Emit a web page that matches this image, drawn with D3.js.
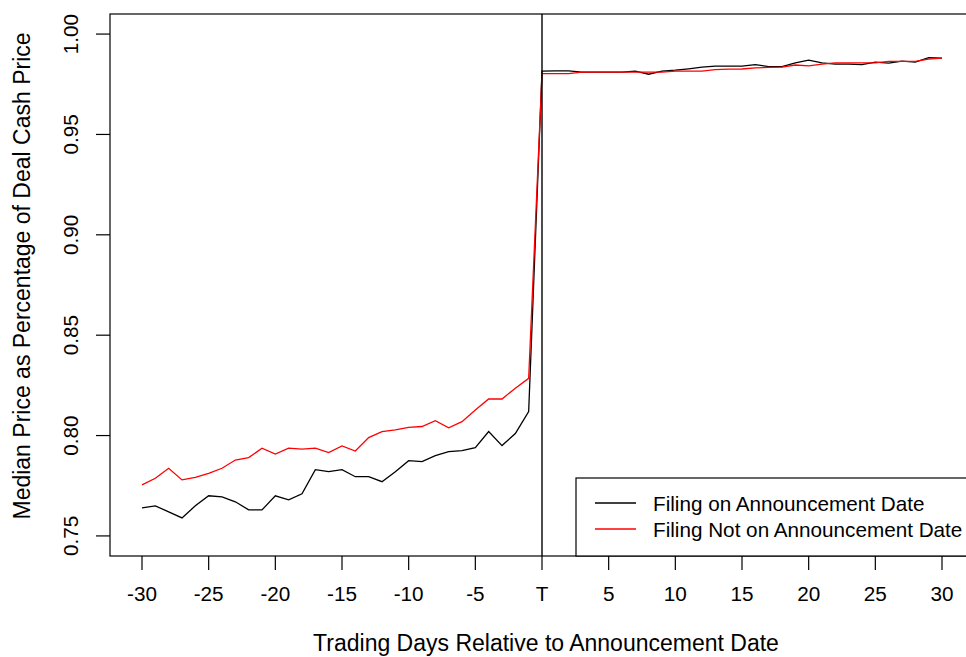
<!DOCTYPE html>
<html>
<head>
<meta charset="utf-8">
<script src="https://cdn.jsdelivr.net/npm/d3@7"></script>
<style>
  body { margin: 0; background: #fff; }
  svg { display: block; }
  text { font-family: "Liberation Sans", Arial, sans-serif; fill: #000; }
</style>
</head>
<body>
<div class="chart"></div>
<script>
// trading days relative to announcement (0 = T)
var days = [-30, -29, -28, -27, -26, -25, -24, -23, -22, -21, -20, -19, -18, -17, -16, -15,
  -14, -13, -12, -11, -10, -9, -8, -7, -6, -5, -4, -3, -2, -1, 0,
  1, 2, 3, 4, 5, 6, 7, 8, 9, 10, 11, 12, 13, 14, 15,
  16, 17, 18, 19, 20, 21, 22, 23, 24, 25, 26, 27, 28, 29, 30];

// median price / deal cash price, filing on announcement date
var filingOn = [0.764, 0.765, 0.762, 0.759, 0.765, 0.770, 0.7695, 0.767, 0.763, 0.763,
  0.770, 0.768, 0.771, 0.783, 0.782, 0.783, 0.7795, 0.7795, 0.777, 0.782,
  0.7875, 0.787, 0.790, 0.792, 0.7925, 0.794, 0.802, 0.795, 0.801, 0.812,
  0.9815,
  0.9817, 0.9817, 0.981, 0.981, 0.981, 0.981, 0.9815, 0.980, 0.9815, 0.982,
  0.9827, 0.9835, 0.984, 0.984, 0.984, 0.9848, 0.9838, 0.9838, 0.9857, 0.987,
  0.9857, 0.985, 0.985, 0.9848, 0.986, 0.9855, 0.9865, 0.986, 0.9883, 0.988];

// filing not on announcement date
var filingNotOn = [0.7754, 0.7787, 0.7837, 0.7779, 0.7792, 0.7812, 0.7837, 0.7878, 0.789, 0.7937,
  0.7908, 0.7937, 0.7932, 0.7937, 0.7915, 0.7948, 0.7923, 0.799, 0.802, 0.8028,
  0.8041, 0.8045, 0.8074, 0.8039, 0.8069, 0.8127, 0.8182, 0.8182, 0.8236, 0.8285,
  0.9803,
  0.9803, 0.9803, 0.981, 0.981, 0.981, 0.981, 0.981, 0.981, 0.981, 0.9815,
  0.9815, 0.9815, 0.9823, 0.9825, 0.9826, 0.9832, 0.9834, 0.9835, 0.9846, 0.9842,
  0.985, 0.9857, 0.9857, 0.9857, 0.9857, 0.9864, 0.9864, 0.9864, 0.9875, 0.988];

var xTicks = [-30, -25, -20, -15, -10, -5, 0, 5, 10, 15, 20, 25, 30];
var yTicks = [0.75, 0.80, 0.85, 0.90, 0.95, 1.00];

var seriesNames = ["Filing on Announcement Date", "Filing Not on Announcement Date"];
var seriesColors = ["#000000", "#ff0000"];

var W = 966, H = 657;
var pLeft = 110, pRight = 974, pTop = 14, pBottom = 556;
var fs = "20.7px",
    fsLab = "23px";

var svg = d3.select(".chart").append("svg")
  .attr("width", W)
  .attr("height", H);

// R style: limits padded by 4%
var x = d3.scaleLinear().domain([-32.4, 32.4]).range([pLeft, pRight]);
var y = d3.scaleLinear().domain([0.74, 1.01]).range([pBottom, pTop]);

var line = d3.line()
  .x(function (d, i) { return x(days[i]); })
  .y(function (d) { return y(d); });

// series
[filingOn, filingNotOn].forEach(function (s, k) {
  svg.append("path")
    .datum(s)
    .attr("d", line)
    .attr("fill", "none")
    .attr("stroke", seriesColors[k])
    .attr("stroke-width", 1.3);
});

// announcement line
svg.append("line")
  .attr("x1", x(0)).attr("x2", x(0))
  .attr("y1", pTop).attr("y2", pBottom)
  .attr("stroke", "#000").attr("stroke-width", 1.4);

// plot frame
svg.append("rect")
  .attr("x", pLeft).attr("y", pTop)
  .attr("width", pRight - pLeft).attr("height", pBottom - pTop)
  .attr("fill", "none").attr("stroke", "#000").attr("stroke-width", 1.2);

// x axis
var xAxis = svg.append("g");
xAxis.selectAll("line").data(xTicks).enter().append("line")
  .attr("x1", function (d) { return x(d); })
  .attr("x2", function (d) { return x(d); })
  .attr("y1", pBottom).attr("y2", pBottom + 14)
  .attr("stroke", "#000").attr("stroke-width", 1.2);
xAxis.selectAll("text").data(xTicks).enter().append("text")
  .attr("x", function (d) { return x(d); })
  .attr("y", 601)
  .attr("text-anchor", "middle")
  .style("font-size", fs)
  .text(function (d) { return d === 0 ? "T" : d; });

// y axis
var yAxis = svg.append("g");
yAxis.selectAll("line").data(yTicks).enter().append("line")
  .attr("x1", pLeft - 14).attr("x2", pLeft)
  .attr("y1", function (d) { return y(d); })
  .attr("y2", function (d) { return y(d); })
  .attr("stroke", "#000").attr("stroke-width", 1.2);
yAxis.selectAll("text").data(yTicks).enter().append("text")
  .attr("transform", function (d) { return "translate(78," + y(d) + ") rotate(-90)"; })
  .attr("text-anchor", "middle")
  .style("font-size", fs)
  .text(function (d) { return d3.format(".2f")(d); });

// axis titles
svg.append("text")
  .attr("x", 546)
  .attr("y", 651)
  .attr("text-anchor", "middle")
  .style("font-size", fsLab)
  .text("Trading Days Relative to Announcement Date");

svg.append("text")
  .attr("transform", "translate(30,276) rotate(-90)")
  .attr("text-anchor", "middle")
  .style("font-size", fsLab)
  .text("Median Price as Percentage of Deal Cash Price");

// legend
var lg = svg.append("g");
lg.append("rect")
  .attr("x", 576).attr("y", 478)
  .attr("width", 420).attr("height", pBottom - 478)
  .attr("fill", "#fff").attr("stroke", "#000").attr("stroke-width", 1.2);
seriesNames.forEach(function (name, k) {
  var ly = 503 + k * 26;
  lg.append("line")
    .attr("x1", 595).attr("x2", 636)
    .attr("y1", ly).attr("y2", ly)
    .attr("stroke", seriesColors[k]).attr("stroke-width", 1.3);
  lg.append("text")
    .attr("x", 653).attr("y", ly + 8)
    .style("font-size", fs)
    .text(name);
});
</script>
</body>
</html>
